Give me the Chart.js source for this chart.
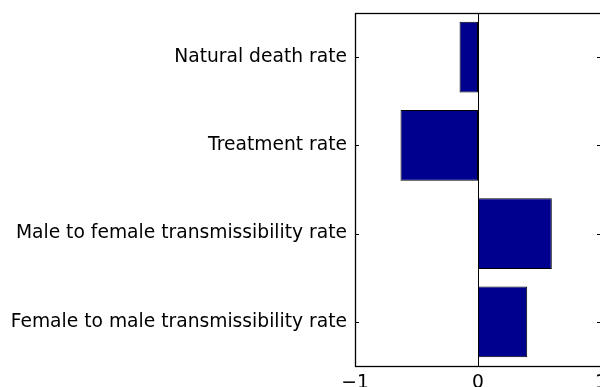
<!DOCTYPE html>
<html>
<head>
<meta charset="utf-8">
<script src="https://cdn.jsdelivr.net/npm/chart.js@4.4.1/dist/chart.umd.min.js"></script>
<style>
  html, body { margin: 0; padding: 0; background: #fff; overflow: hidden; }
  #wrap { position: absolute; left: 0; top: 0; width: 600px; height: 387px; overflow: hidden; }
  canvas { display: block; }
</style>
</head>
<body>
<div id="wrap"><canvas id="chart" width="612" height="387"></canvas></div>
<script>
// Sensitivity of the model output to each parameter
const parameters = [
  'Natural death rate',
  'Treatment rate',
  'Male to female transmissibility rate',
  'Female to male transmissibility rate'
];
const sensitivity = [-0.15, -0.63, 0.6, 0.4];
const xTicks = [-1, 0, 1];

const FONT = { family: '"DejaVu Sans", sans-serif', size: 18.7 };
const BAR_FILL = 'rgb(0,0,143)';

// Axes box, inward tick marks on all four sides, and the zero line
const frame = {
  id: 'frame',
  afterDraw(chart) {
    const { ctx, chartArea: a, scales: { x, y } } = chart;
    const L = 4;
    ctx.save();
    ctx.strokeStyle = '#000';
    ctx.lineWidth = 1;
    ctx.beginPath();
    // zero line
    const zx = Math.round(x.getPixelForValue(0)) + 0.5;
    ctx.moveTo(zx, a.top); ctx.lineTo(zx, a.bottom);
    // category ticks, left and right
    parameters.forEach((_, i) => {
      const py = Math.round(y.getPixelForTick(i)) + 0.5;
      ctx.moveTo(a.left, py); ctx.lineTo(a.left + L, py);
      ctx.moveTo(a.right, py); ctx.lineTo(a.right - L, py);
    });
    // value ticks, bottom and top
    xTicks.forEach(v => {
      const px = Math.round(x.getPixelForValue(v)) + 0.5;
      ctx.moveTo(px, a.bottom); ctx.lineTo(px, a.bottom - L);
      ctx.moveTo(px, a.top); ctx.lineTo(px, a.top + L);
    });
    ctx.stroke();
    ctx.lineWidth = 1.3;
    ctx.strokeRect(Math.round(a.left) + 0.5, Math.round(a.top) + 0.5,
                   Math.round(a.right - a.left), Math.round(a.bottom - a.top));
    ctx.restore();
  }
};

new Chart(document.getElementById('chart'), {
  type: 'bar',
  data: {
    labels: parameters,
    datasets: [{
      data: sensitivity,
      backgroundColor: BAR_FILL,
      borderColor: '#000',
      borderWidth: 1,
      borderSkipped: false,
      barPercentage: 0.8,
      categoryPercentage: 1
    }]
  },
  options: {
    indexAxis: 'y',
    responsive: false,
    animation: false,
    devicePixelRatio: 1,
    layout: { padding: { top: 13, right: 11, left: 0, bottom: 0 } },
    plugins: { legend: { display: false }, tooltip: { enabled: false } },
    scales: {
      y: {
        type: 'category',
        grid: { display: false, drawTicks: false },
        border: { display: false },
        afterFit(s) { s.width = 355; s.paddingTop = 0; s.paddingBottom = 0; },
        ticks: { autoSkip: false, padding: 8, color: '#000', font: FONT }
      },
      x: {
        type: 'linear',
        min: -1,
        max: 1,
        afterFit(s) { s.height = 21; s.paddingLeft = 0; s.paddingRight = 0; },
        afterBuildTicks(s) { s.ticks = xTicks.map(v => ({ value: v })); },
        grid: { display: false, drawTicks: false },
        border: { display: false },
        ticks: {
          padding: 6,
          color: '#000',
          font: FONT,
          callback: v => String(v).replace('-', '\u2212')
        }
      }
    }
  },
  plugins: [frame]
});
</script>
</body>
</html>
